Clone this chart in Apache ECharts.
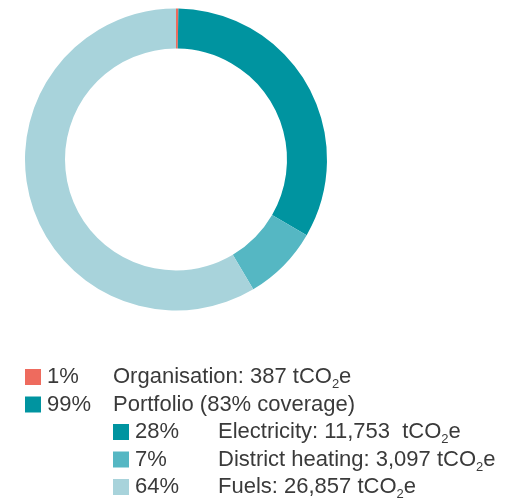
<!DOCTYPE html>
<html>
<head>
<meta charset="utf-8">
<script src="https://cdn.jsdelivr.net/npm/echarts@6/dist/echarts.min.js"></script>
<style>
  html, body { margin: 0; padding: 0; background: #fff; }
  #chart { width: 507px; height: 500px; }
</style>
</head>
<body>
<div id="chart"></div>
<script>
// slices, clockwise from the top (share of the ring as drawn)
var sliceNames = ["Organisation", "Electricity", "District heating", "Fuels"];
var sliceShares = [0.25, 33.1, 8.1, 58.55];
var sliceColors = ["#EE6B5E", "#0094A0", "#55B7C3", "#A8D3DB"];

// legend rows
var legendPct = ["1%", "99%", "28%", "7%", "64%"];
var legendLabel = ["Organisation: 387 ", "Portfolio (83% coverage)", "Electricity: 11,753  ", "District heating: 3,097 ", "Fuels: 26,857 "];
var legendUnit = [true, false, true, true, true];
var legendColor = ["#EE6B5E", "#0094A0", "#0094A0", "#55B7C3", "#A8D3DB"];
var legendIndent = [0, 0, 1, 1, 1];

var chart = echarts.init(document.getElementById("chart"));

var font = "'Liberation Sans', Arial, sans-serif";
var txtColor = "#3a3a3a";
var graphics = [];
legendPct.forEach(function (p, i) {
  var top = 369 + i * 27.5;
  var x0 = legendIndent[i] ? 113 : 25;
  var xText = legendIndent[i] ? 218 : 113;
  graphics.push({
    type: "rect",
    shape: { x: x0, y: top, width: 16, height: 16 },
    style: { fill: legendColor[i] }
  });
  graphics.push({
    type: "text",
    x: x0 + 22, y: top - 6,
    style: {
      text: "{m|" + p + "}",
      rich: { m: { fontSize: 22, lineHeight: 28, fontFamily: font, fill: txtColor } }
    }
  });
  var txt = "{m|" + legendLabel[i] + "}";
  if (legendUnit[i]) txt += "{m|tCO}{s|2}{m|e}";
  graphics.push({
    type: "text",
    x: xText, y: top - 6,
    style: {
      text: txt,
      rich: {
        m: { fontSize: 22, lineHeight: 28, fontFamily: font, fill: txtColor },
        s: { fontSize: 13, lineHeight: 17, verticalAlign: "bottom", fontFamily: font, fill: txtColor }
      }
    }
  });
});

chart.setOption({
  animation: false,
  series: [{
    type: "pie",
    center: [176, 159.5],
    radius: [111, 151],
    startAngle: 90,
    clockwise: true,
    label: { show: false },
    labelLine: { show: false },
    silent: true,
    data: sliceNames.map(function (n, i) {
      return { name: n, value: sliceShares[i], itemStyle: { color: sliceColors[i] } };
    })
  }],
  graphic: graphics
});
</script>
</body>
</html>
